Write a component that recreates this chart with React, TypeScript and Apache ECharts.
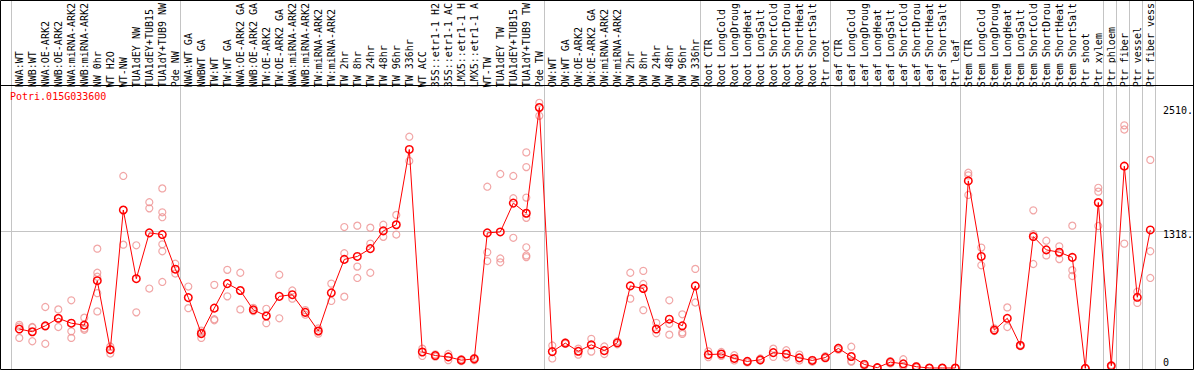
import React, { useEffect, useRef } from "react";
import * as echarts from "echarts";

const geneId = "Potri.015G033600";

const categories: string[] = [
  "NWA:WT", "NWB:WT", "NWA:OE-ARK2", "NWB:OE-ARK2", "NWA:miRNA-ARK2", "NWB:miRNA-ARK2",
  "NW 0hr", "WT H2O", "WT-NW", "TUA1dEY NW", "TUA1dEY+TUB15", "TUA1dY+TUB9 NW", "Pde NW",
  "NWA:WT GA", "NWBWT GA", "TW:WT", "TW:WT GA", "NWA:OE-ARK2 GA", "NWB:OE-ARK2 GA",
  "TW:OE-ARK2", "TW:OE-ARK2 GA", "NWA:miRNA-ARK2", "NWB:miRNA-ARK2", "TW:miRNA-ARK2",
  "TW:miRNA-ARK2", "TW 2hr", "TW 8hr", "TW 24hr", "TW 48hr", "TW 96hr", "TW 336hr",
  "WT ACC", "35S::etr1-1 H2", "35S::etr1-1 AC", "LMX5::etr1-1 H", "LMX5::etr1-1 A",
  "WT-TW", "TUA1dEY TW", "TUA1dEY+TUB15", "TUA1dY+TUB9 TW", "Pde TW",
  "OW:WT", "OW:WT GA", "OW:OE-ARK2", "OW:OE-ARK2 GA", "OW:miRNA-ARK2", "OW:miRNA-ARK2",
  "OW 2hr", "OW 8hr", "OW 24hr", "OW 48hr", "OW 96hr", "OW 336hr",
  "Root CTR", "Root LongCold", "Root LongDroug", "Root LongHeat", "Root LongSalt",
  "Root ShortCold", "Root ShortDrou", "Root ShortHeat", "Root ShortSalt", "Ptr root",
  "Leaf CTR", "Leaf LongCold", "Leaf LongDroug", "Leaf LongHeat", "Leaf LongSalt",
  "Leaf ShortCold", "Leaf ShortDrou", "Leaf ShortHeat", "Leaf ShortSalt", "Ptr leaf",
  "Stem CTR", "Stem LongCold", "Stem LongDroug", "Stem LongHeat", "Stem LongSalt",
  "Stem ShortCold", "Stem ShortDrou", "Stem ShortHeat", "Stem ShortSalt", "Ptr shoot",
  "Ptr xylem", "Ptr phloem", "Ptr fiber", "Ptr vessel", "Ptr fiber vess",
];

const means: number[] = [
  378, 352, 409, 481, 434, 415, 841, 180, 1518, 860, 1299, 1283, 951,
  679, 334, 578, 813, 747, 562, 503, 691, 707, 538, 359, 725, 1045, 1073, 1148, 1318, 1377, 2098,
  158, 124, 111, 80, 92, 1299, 1308, 1584, 1487, 2500,
  162, 243, 165, 227, 171, 246, 791, 766, 378, 472, 409, 791,
  133, 139, 96, 68, 83, 152, 139, 102, 77, 105,
  193, 115, 39, 8, 61, 45, 17, 5, 5, 5,
  1797, 1073, 368, 481, 221, 1264, 1136, 1114, 1064, 2,
  1590, 26, 1938, 682, 1327,
];

const replicates: number[][] = [
  [418, 402, 293], [393, 261, 398], [589, 237, 402], [566, 397, 481], [653, 356, 293],
  [487, 384, 371], [1148, 917, 879, 722, 547], [211, 143, 180], [1844, 1186], [1180, 538],
  [1593, 1534, 766], [1725, 1496, 1449, 1189, 1123, 829], [1004, 910],
  [785, 578], [293, 346, 363], [801, 462, 472], [945, 691], [917, 566], [581, 550],
  [572, 434], [898, 481], [747, 669], [559, 515], [384, 359, 334], [813, 647],
  [1355, 1104, 688], [1368, 976, 867], [1349, 1196, 917], [1377, 1261], [1471, 1283],
  [2220, 1988], [190, 120], [135, 113], [139, 80], [90, 70], [102, 80],
  [1741, 1114, 1029], [1863, 1054, 1017], [1844, 1631, 1252],
  [2070, 1929, 1637, 1443, 1161, 1083, 1067], [2545, 2420],
  [221, 96], [250, 236], [190, 133], [284, 162], [211, 139], [260, 232],
  [917, 669], [935, 810, 559], [437, 337], [653, 428, 324], [519, 346, 331], [954, 632],
  [164, 108], [158, 120], [127, 77], [71, 58], [96, 77], [190, 111], [175, 105],
  [133, 77], [83, 64], [118, 96],
  [199, 180], [209, 71, 65], [45, 26], [10, 6], [71, 49], [89, 25, 21], [23, 8],
  [3, 7], [3, 7], [3, 7],
  [1875, 1850, 1662], [1158, 989], [384, 359], [585, 397], [227, 214],
  [1515, 1286, 1001], [1224, 1083], [1170, 1104, 1048], [1368, 942, 886], [0, 4],
  [1731, 1694, 1365], [33, 17], [2329, 2289, 1196], [735, 628], [1998, 1123, 867],
];

// separators are drawn after these category indices (-1 = before the first)
const groupEnds: number[] = [-1, 12, 40, 52, 62, 72, 83, 84, 85, 86, 87];

const yMax = 2636;
const yMarks: number[] = [2510, 1318, 0];
const yMarkLabels: string[] = ["2510.", "1318.", "0"];
const guideValue = 1318;

const W = 1194;
const H = 370;
const MONO = "DejaVu Sans Mono";
const GRAY = "#c4c4c4";

export default function App() {
  const ref = useRef<HTMLDivElement>(null);

  useEffect(() => {
    if (!ref.current) return;
    const chart = echarts.init(ref.current, null, { renderer: "svg", width: W, height: H });

    const repData: number[][] = [];
    replicates.forEach((arr, i) => arr.forEach((v) => repData.push([i, v])));

    chart.setOption({
      animation: false,
      backgroundColor: "#ffffff",
      grid: { left: 12.8, top: 88, width: 1144, height: 280.5, containLabel: false },
      xAxis: {
        type: "category",
        data: categories,
        position: "top",
        boundaryGap: true,
        axisLine: { show: false },
        axisTick: { show: false },
        splitLine: { show: false },
        axisLabel: {
          interval: 0,
          rotate: 90,
          margin: 6,
          fontSize: 10,
          fontFamily: MONO,
          color: "#000",
        },
      },
      yAxis: { type: "value", min: 0, max: yMax, show: false, splitLine: { show: false } },
      series: [
        {
          type: "scatter",
          data: repData,
          symbol: "circle",
          symbolSize: 7,
          itemStyle: { color: "rgba(0,0,0,0)", borderColor: "#ee9090", borderWidth: 1.2 },
          z: 2,
          silent: true,
        },
        {
          type: "line",
          data: means,
          symbol: "circle",
          symbolSize: 7.5,
          showAllSymbol: true,
          lineStyle: { color: "#ff0000", width: 1 },
          itemStyle: { color: "rgba(0,0,0,0)", borderColor: "#ff0000", borderWidth: 1.5 },
          z: 3,
          silent: true,
        },
      ],
    });

    const xPix = (i: number) => chart.convertToPixel({ xAxisIndex: 0 }, i) as number;
    const yPix = (v: number) => chart.convertToPixel({ yAxisIndex: 0 }, v) as number;
    const step = xPix(1) - xPix(0);

    const elements: any[] = [];
    groupEnds.forEach((i) => {
      const x = Math.round(xPix(0) + step * i + 5) + 0.5;
      elements.push({
        type: "line",
        shape: { x1: x, y1: 0, x2: x, y2: H - 1 },
        style: { stroke: GRAY, lineWidth: 1 },
        z: 1,
        silent: true,
      });
    });
    const gy = Math.round(yPix(guideValue)) + 0.5;
    elements.push({
      type: "line",
      shape: { x1: 0, y1: gy, x2: W - 1, y2: gy },
      style: { stroke: GRAY, lineWidth: 1 },
      z: 1,
      silent: true,
    });
    // frame
    const frame = [
      [0.5, 0.5, W - 0.5, 0.5],
      [0.5, 0.5, 0.5, H - 0.5],
      [W - 0.5, 0.5, W - 0.5, H - 0.5],
      [0.5, H - 0.5, W - 0.5, H - 0.5],
      [0.5, 85.5, W - 0.5, 85.5],
    ];
    frame.forEach(([x1, y1, x2, y2]) =>
      elements.push({
        type: "line",
        shape: { x1, y1, x2, y2 },
        style: { stroke: "#000", lineWidth: 1 },
        z: 5,
        silent: true,
      })
    );
    yMarks.forEach((v, k) => {
      const y = yPix(v);
      const isZero = v === 0;
      elements.push({
        type: "text",
        x: 1163,
        y: y - 1,
        style: {
          text: yMarkLabels[k],
          fill: "#000",
          font: `10px '${MONO}'`,
          textAlign: "left",
          textVerticalAlign: isZero ? "bottom" : "top",
        },
        z: 6,
        silent: true,
      });
    });
    elements.push({
      type: "text",
      x: 10,
      y: 91,
      style: {
        text: geneId,
        fill: "#ff0000",
        font: `10px '${MONO}'`,
        textAlign: "left",
        textVerticalAlign: "top",
      },
      z: 6,
      silent: true,
    });

    chart.setOption({ graphic: { elements } });

    return () => chart.dispose();
  }, []);

  return (
    <div
      ref={ref}
      style={{ position: "absolute", left: 0, top: 0, width: W, height: H, background: "#fff" }}
    />
  );
}
